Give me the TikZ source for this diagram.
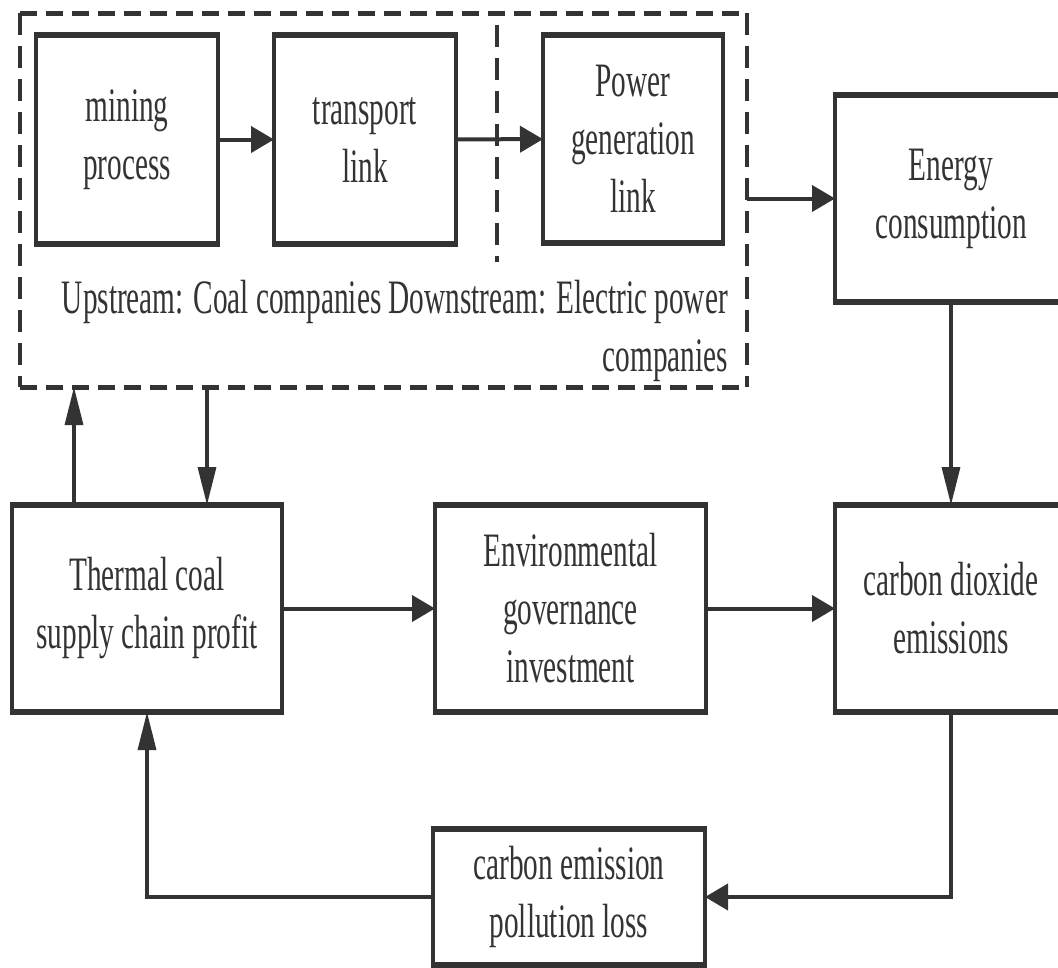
\documentclass[tikz,border=0pt]{standalone}
\usepackage{fontspec}
\setmainfont{Liberation Serif}[FakeStretch=0.61]
\usetikzlibrary{arrows.meta}
\definecolor{ink}{RGB}{51,51,51}
\tikzset{
  box/.style={draw=ink, line width=3.3pt, outer sep=0pt, inner sep=0pt, align=center, text=ink},
  boxh/.style={draw=ink, line width=5.5pt, shorten <=-1.65pt, shorten >=-1.65pt},
  harr/.style={draw=ink, line width=4pt, -{Triangle[length=23pt,width=26pt]}},
  varr/.style={draw=ink, line width=3.3pt, -{Triangle[length=38pt,width=18pt]}},
  hdash/.style={draw=ink, line width=5pt, dash pattern=on 17pt off 9pt},
  vdash/.style={draw=ink, line width=3.5pt, dash pattern=on 22pt off 11pt},
}
\begin{document}
\begin{tikzpicture}[x=1pt,y=-1pt,font=\fontsize{48}{58}\selectfont]
\useasboundingbox (0,0) rectangle (1058,967);
\clip (0,0) rectangle (1058,967);
\fill[white] (0,0) rectangle (1058,967);

% group (dashed) box
\node[minimum width=727pt, minimum height=374pt, inner sep=0pt, outer sep=0pt] (grp) at (383.5,200) {};
\draw[hdash] (grp.north west) -- (grp.north east);
\draw[hdash] (grp.south west) -- (grp.south east);
\draw[vdash] (grp.north west) -- (grp.south west);
\draw[vdash] (grp.north east) -- (grp.south east);
\coordinate (dtop) at (497,25);
\coordinate (dbot) at (497,262);
\draw[vdash] (dtop) -- (dbot);

% boxes
\node[box, minimum width=182pt, minimum height=209pt] (mining) at (127,139.5) {mining\\process};
\node[box, minimum width=182pt, minimum height=209pt] (transport) at (365,139.5) {transport\\link};
\node[box, minimum width=180pt, minimum height=208pt] (power) at (633,139) {Power\\generation\\link};
\node[box, minimum width=232pt, minimum height=207pt] (energy) at (951,198.5) {Energy\\consumption};
\node[box, minimum width=270pt, minimum height=207pt] (thermal) at (147,608.5) {Thermal coal\\supply chain profit};
\node[box, minimum width=271pt, minimum height=207pt] (env) at (570.5,608.5) {Environmental\\governance\\investment};
\node[box, minimum width=232pt, minimum height=207pt] (co2) at (951,608.5) {carbon dioxide\\emissions};
\node[box, minimum width=272pt, minimum height=136pt] (loss) at (569,897) {carbon emission\\pollution loss};
\foreach \n in {mining,transport,power,energy,thermal,env,co2,loss}{
  \draw[boxh] (\n.north west) -- (\n.north east);
  \draw[boxh] (\n.south west) -- (\n.south east);
}

% label
\node[anchor=north east, inner sep=0pt, align=right, text=ink] (lbl) at (728,280)
  {Upstream: Coal companies Downstream: Electric power\\companies};

% connectors
\draw[harr] (mining) -- (transport);
\draw[harr] (transport) -- (power);
\draw[harr] (grp.east |- energy.west) -- (energy.west);
\draw[varr] (energy.south) -- (co2.north);
\draw[varr] ([xshift=-73pt]thermal.north) -- ([xshift=-73pt]thermal.north |- grp.south);
\draw[varr] ([xshift=60pt]thermal.north |- grp.south) -- ([xshift=60pt]thermal.north);
\draw[harr] (thermal) -- (env);
\draw[harr] (env) -- (co2);
\draw[harr] (co2.south) |- (loss.east);
\draw[varr] (loss.west) -| (thermal.south);
\end{tikzpicture}
\end{document}
